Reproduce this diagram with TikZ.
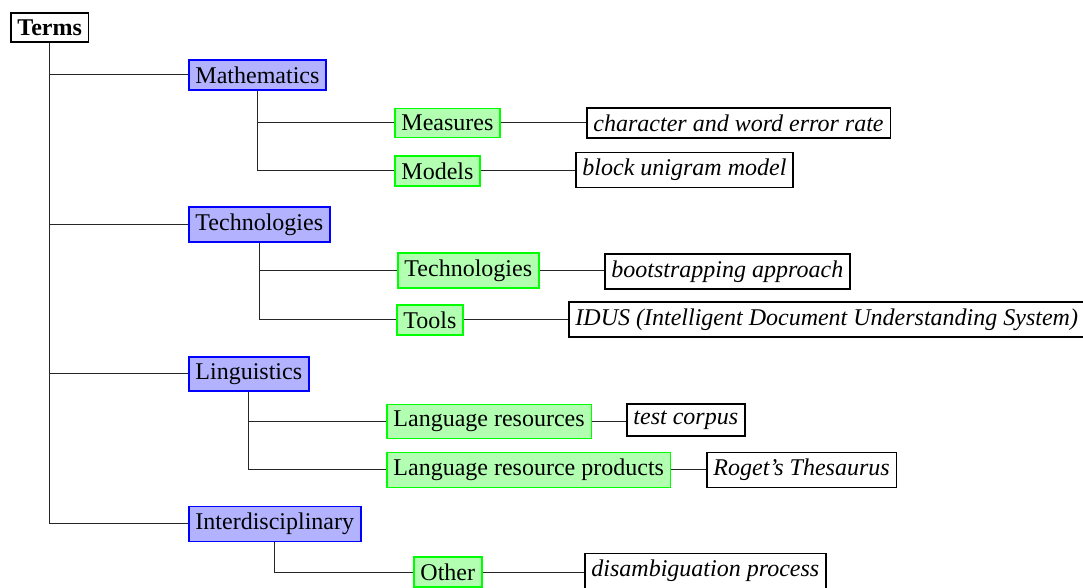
\documentclass[tikz,border=0pt]{standalone}
\usepackage{fontspec}
\setmainfont{Liberation Serif}
\begin{document}
\begin{tikzpicture}[x=0.5pt,y=-0.5pt,
  every node/.style={font=\fontsize{12}{14.4}\selectfont, anchor=west},
  rootbox/.style={draw=black, thick, font=\fontsize{12}{14.4}\selectfont\bfseries},
  catbox/.style={draw=blue, thick, fill=blue!30},
  subbox/.style={draw=green, thick, fill=green!30},
  leafbox/.style={draw=black, thick, font=\fontsize{12}{14.4}\selectfont\itshape},
  link/.style={draw=black!85, line width=0.5pt}]
\useasboundingbox (0,0) rectangle (1083,588);
\node[rootbox] (terms) at (10,27.5) {Terms};
\node[catbox] (math) at (188,75) {Mathematics};
\node[subbox] (meas) at (394,123) {Measures};
\node[leafbox] (cwer) at (586,123) {character and word error rate};
\node[subbox] (models) at (394,171) {Models};
\node[leafbox] (bum) at (575,170) {block unigram model};
\node[catbox] (tech) at (188,224.5) {Technologies};
\node[subbox] (tech2) at (397,270.5) {Technologies};
\node[leafbox] (boot) at (604,271.5) {bootstrapping approach};
\node[subbox] (tools) at (396,320) {Tools};
\node[leafbox] (idus) at (568,319.5) {IDUS (Intelligent Document Understanding System)};
\node[catbox] (ling) at (188,374) {Linguistics};
\node[subbox] (lres) at (386,421.5) {Language resources};
\node[leafbox] (corpus) at (626,420) {test corpus};
\node[subbox] (lrp) at (386,470) {Language resource products};
\node[leafbox] (roget) at (706,470) {Roget's Thesaurus};
\node[catbox] (inter) at (188,524) {Interdisciplinary};
\node[subbox] (other) at (413,572) {Other};
\node[leafbox] (disamb) at (584,571) {disambiguation process};
% tree connectors
\foreach \c in {math,tech,ling,inter} \draw[link] (terms.south) |- (\c.west);
\foreach \c in {meas,models} \draw[link] (math.south) |- (\c.west);
\foreach \c in {tech2,tools} \draw[link] (tech.south) |- (\c.west);
\foreach \c in {lres,lrp} \draw[link] (ling.south) |- (\c.west);
\draw[link] (inter.south) |- (other.west);
% leaves
\foreach \a/\b in {meas/cwer,models/bum,tech2/boot,tools/idus,lres/corpus,lrp/roget,other/disamb}
  \draw[link] (\a.east) -- (\a.east -| \b.west);
\end{tikzpicture}
\end{document}
